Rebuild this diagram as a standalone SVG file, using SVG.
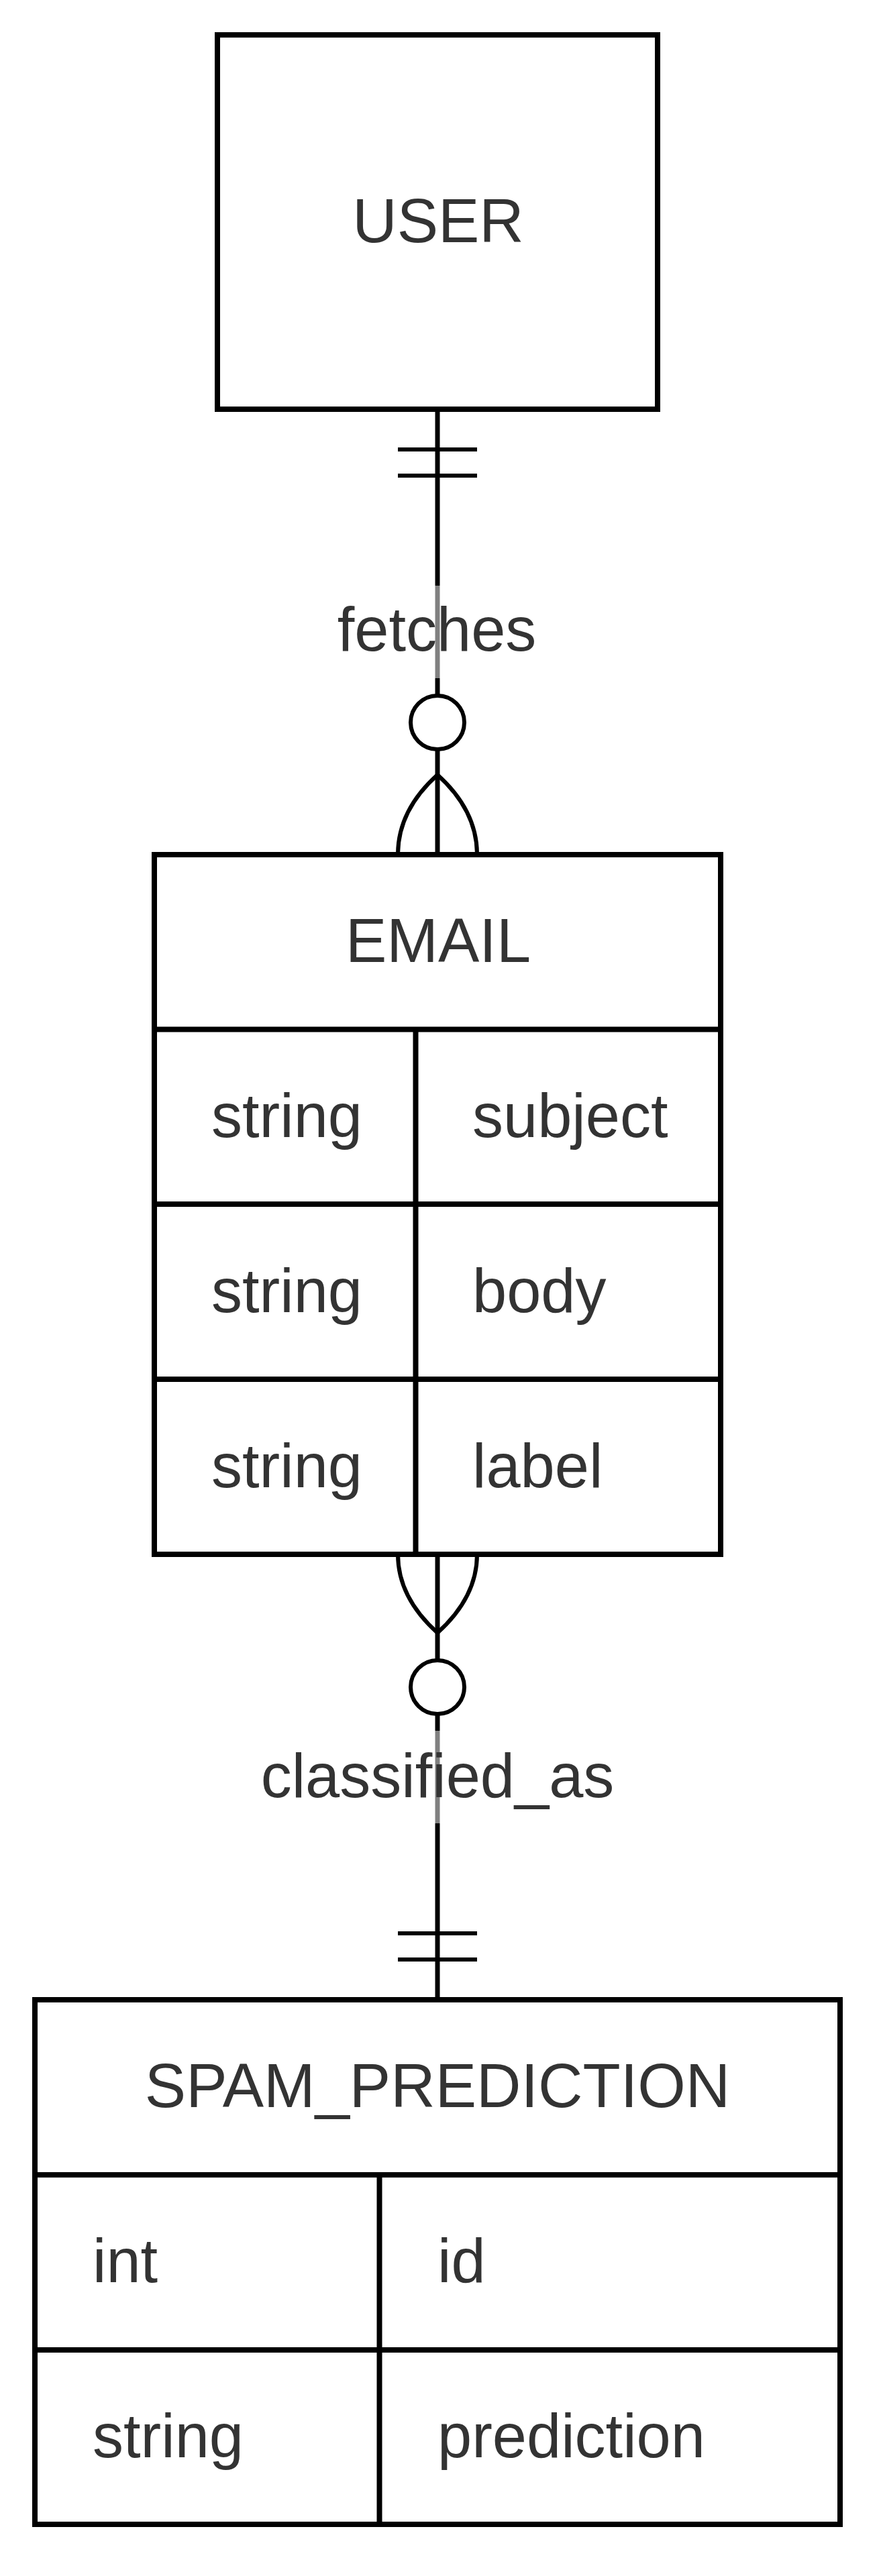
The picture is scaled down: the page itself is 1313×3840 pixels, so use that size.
<svg xmlns="http://www.w3.org/2000/svg" width="1313" height="3840" viewBox="0 0 1313 3840">
<style>
.box{fill:#ffffff;stroke:#000000;stroke-width:8}
.ln{fill:none;stroke:#000000;stroke-width:8}
.cn{fill:none;stroke:#000000;stroke-width:7}
.mk{fill:none;stroke:#000000;stroke-width:6}
.circ{fill:#ffffff;stroke:#000000;stroke-width:6}
.lblbg{fill:#ffffff;fill-opacity:0.5;stroke:none}
.t{font-family:"Liberation Sans",Arial,sans-serif;font-size:92px;fill:#333333}
.c{text-anchor:middle}
</style>
<rect x="0" y="0" width="1313" height="3840" fill="#ffffff"/>
<g id="connectors">
  <g id="edge-user-email">
    <line class="cn" x1="652" y1="610" x2="652" y2="1274"/>
    <line class="mk" x1="593" y1="670" x2="711" y2="670"/>
    <line class="mk" x1="593" y1="709" x2="711" y2="709"/>
    <path class="mk" d="M652,1155 Q593,1208 593,1274 M652,1155 Q711,1208 711,1274"/>
    <circle class="circ" cx="652" cy="1077" r="40"/>
    <rect class="lblbg" x="505" y="873" width="292" height="138"/>
    <text class="t c" x="651" y="970">fetches</text>
  </g>
  <g id="edge-email-spam">
    <line class="cn" x1="652" y1="2317" x2="652" y2="2981"/>
    <path class="mk" d="M652,2434 Q593,2381 593,2317 M652,2434 Q711,2381 711,2317"/>
    <circle class="circ" cx="652" cy="2515" r="40"/>
    <line class="mk" x1="593" y1="2882" x2="711" y2="2882"/>
    <line class="mk" x1="593" y1="2921" x2="711" y2="2921"/>
    <rect class="lblbg" x="392" y="2580" width="521" height="138"/>
    <text class="t c" x="652" y="2679">classified_as</text>
  </g>
</g>
<g id="USER">
  <rect class="box" x="324" y="52" width="656" height="558"/>
  <text class="t c" x="653" y="361">USER</text>
</g>
<g id="EMAIL">
  <rect class="box" x="230" y="1274" width="844" height="1043"/>
  <line class="ln" x1="230" y1="1534.5" x2="1074" y2="1534.5"/>
  <line class="ln" x1="230" y1="1795" x2="1074" y2="1795"/>
  <line class="ln" x1="230" y1="2056" x2="1074" y2="2056"/>
  <line class="ln" x1="619.5" y1="1534.5" x2="619.5" y2="2317"/>
  <text class="t c" x="653" y="1434">EMAIL</text>
  <text class="t" x="315" y="1695">string</text>
  <text class="t" x="704" y="1695">subject</text>
  <text class="t" x="315" y="1956">string</text>
  <text class="t" x="704" y="1956">body</text>
  <text class="t" x="315" y="2217">string</text>
  <text class="t" x="704" y="2217">label</text>
</g>
<g id="SPAM_PREDICTION">
  <rect class="box" x="52" y="2981" width="1200" height="782"/>
  <line class="ln" x1="52" y1="3242" x2="1252" y2="3242"/>
  <line class="ln" x1="52" y1="3503" x2="1252" y2="3503"/>
  <line class="ln" x1="565.5" y1="3242" x2="565.5" y2="3763"/>
  <text class="t c" x="652" y="3141">SPAM_PREDICTION</text>
  <text class="t" x="138" y="3402">int</text>
  <text class="t" x="652" y="3402">id</text>
  <text class="t" x="138" y="3663">string</text>
  <text class="t" x="652" y="3663">prediction</text>
</g>
</svg>
